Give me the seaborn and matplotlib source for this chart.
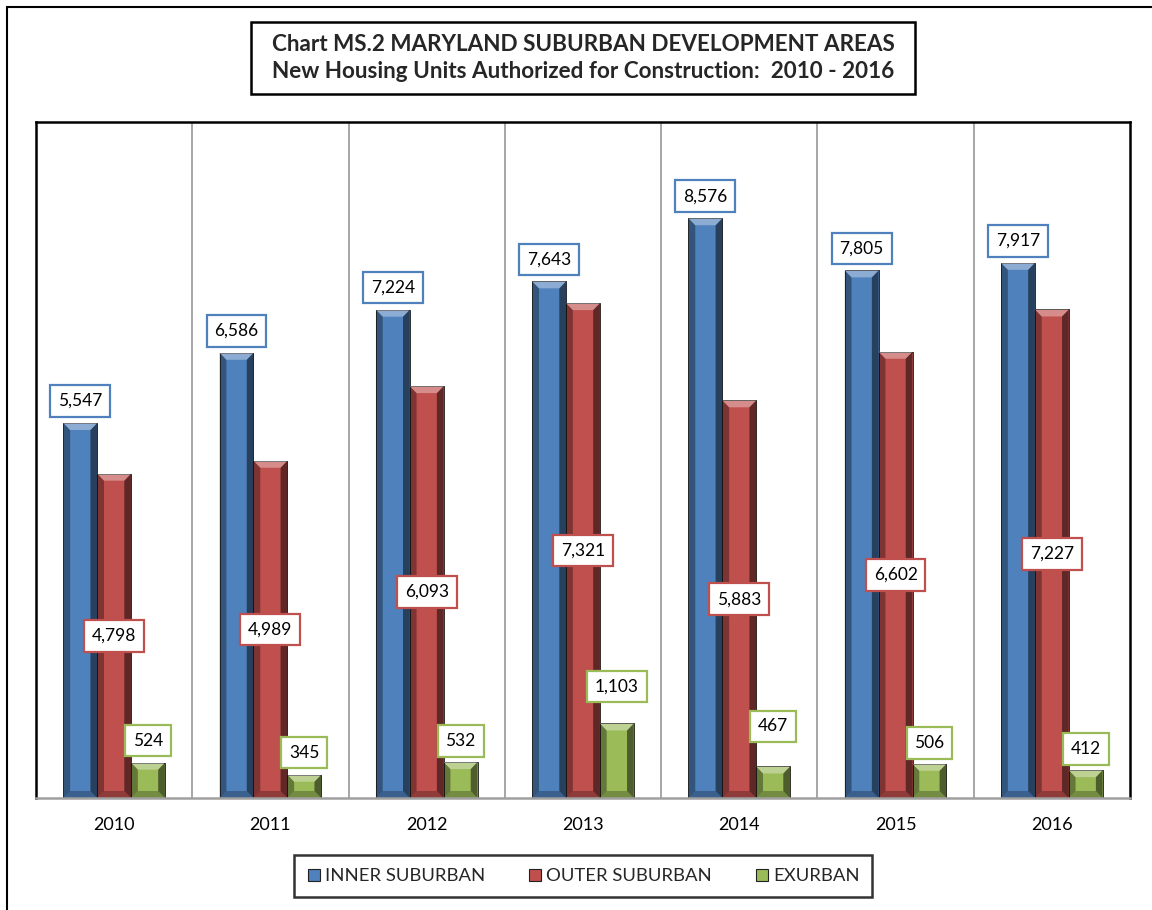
import matplotlib
matplotlib.use("Agg")
import matplotlib.pyplot as plt
from matplotlib.patches import Polygon, Rectangle
from matplotlib.lines import Line2D
import pandas as pd
import seaborn as sns

# data
years = ["2010", "2011", "2012", "2013", "2014", "2015", "2016"]
series = ["INNER SUBURBAN", "OUTER SUBURBAN", "EXURBAN"]
inner = [5547, 6586, 7224, 7643, 8576, 7805, 7917]
outer = [4798, 4989, 6093, 7321, 5883, 6602, 7227]
exurban = [524, 345, 532, 1103, 467, 506, 412]

colors = ["#4F81BD", "#C0504D", "#9BBB59"]

df = pd.DataFrame({
    "year": years * 3,
    "series": [s for s in series for _ in years],
    "units": inner + outer + exurban,
})

sns.set_theme(style="white")
plt.rcParams["font.family"] = ["Lato", "DejaVu Sans"]

fig = plt.figure(figsize=(11.52, 9.10), dpi=100)
ax = fig.add_axes([36 / 1152, 1 - 798 / 910, 1094 / 1152, 676 / 910])

sns.barplot(data=df, x="year", y="units", hue="series", palette=colors,
            width=0.65, saturation=1, edgecolor="#1a1a1a", linewidth=0.6,
            legend=False, ax=ax)

ax.set_ylim(0, 10000)
ax.set_xlim(-0.5, len(years) - 0.5)
ax.set_yticks([])
ax.set_xlabel("")
ax.set_ylabel("")
ax.tick_params(axis="x", length=0, pad=14, labelsize=13, colors="black")

for side in ["left", "top", "right"]:
    ax.spines[side].set_color("black")
    ax.spines[side].set_linewidth(1.8)
ax.spines["bottom"].set_color("#A0A0A0")
ax.spines["bottom"].set_linewidth(1.8)

# gray separators between years
for i in range(len(years) - 1):
    ax.axvline(i + 0.5, color="#A6A6A6", lw=1.4, zorder=0)

# bevel shading on each bar
px_y = 10000 / 676.0
dy = 7 * px_y
for p in ax.patches:
    x0, y0 = p.get_x(), p.get_y()
    w, h = p.get_width(), p.get_height()
    x1, y1 = x0 + w, y0 + h
    d = w * 0.2
    ddy = min(dy, h / 2)
    shapes = [
        ([(x0, y0), (x0 + d, y0 + ddy), (x0 + d, y1 - ddy), (x0, y1)], "black", 0.35),
        ([(x1, y0), (x1 - d, y0 + ddy), (x1 - d, y1 - ddy), (x1, y1)], "black", 0.5),
        ([(x0, y1), (x1, y1), (x1 - d, y1 - ddy), (x0 + d, y1 - ddy)], "white", 0.35),
        ([(x0, y0), (x1, y0), (x1 - d, y0 + ddy), (x0 + d, y0 + ddy)], "black", 0.25),
    ]
    for pts, c, a in shapes:
        ax.add_patch(Polygon(pts, closed=True, facecolor=c, alpha=a,
                             edgecolor="none", zorder=p.get_zorder() + 0.1))

# data labels
green_off = [22, 22, 21, 37, 40, 21, 21]
for k, cont in enumerate(ax.containers):
    for j, bar in enumerate(cont):
        val = bar.get_height()
        xc = bar.get_x() + bar.get_width() / 2
        if k == 0:
            y, off = val, 22
        elif k == 1:
            y, off = val / 2, 0
        else:
            y, off = val, green_off[j]
        ax.annotate(f"{int(val):,}", (xc, y), xytext=(0, off * 0.72),
                    textcoords="offset points", ha="center", va="center",
                    fontsize=12.5, color="black", zorder=10,
                    bbox=dict(boxstyle="square,pad=0.45", fc="white",
                              ec=colors[k], lw=1.6))

# title box
fig.add_artist(Rectangle((251 / 1152, 1 - 94 / 910), 664 / 1152, 72 / 910,
                         transform=fig.transFigure, fc="white",
                         ec="black", lw=1.8))
fig.text(583 / 1152, 1 - 58 / 910,
         "Chart MS.2 MARYLAND SUBURBAN DEVELOPMENT AREAS\n"
         "New Housing Units Authorized for Construction:  2010 - 2016",
         ha="center", va="center", fontsize=16.2, fontweight="bold",
         linespacing=1.3)

# outer border
fig.add_artist(Rectangle((6.5 / 1152, -0.2), 2, 1.2 - 7 / 910,
                         transform=fig.transFigure, fill=False,
                         ec="black", lw=1.5))

# legend
handles = [Line2D([], [], marker="s", ls="none", markersize=9,
                  markerfacecolor=c, markeredgecolor="#222222",
                  markeredgewidth=0.8) for c in colors]
leg = fig.legend(handles, series, loc="center", ncol=3,
                 bbox_to_anchor=(583 / 1152, 1 - 876 / 910),
                 frameon=True, fancybox=False, fontsize=13.3,
                 handlelength=0.8, handletextpad=0.2, columnspacing=2.3,
                 borderpad=0.7, borderaxespad=0)
leg.get_frame().set_edgecolor("black")
leg.get_frame().set_linewidth(1.8)

fig.savefig("out.png", dpi=100, facecolor="white")
